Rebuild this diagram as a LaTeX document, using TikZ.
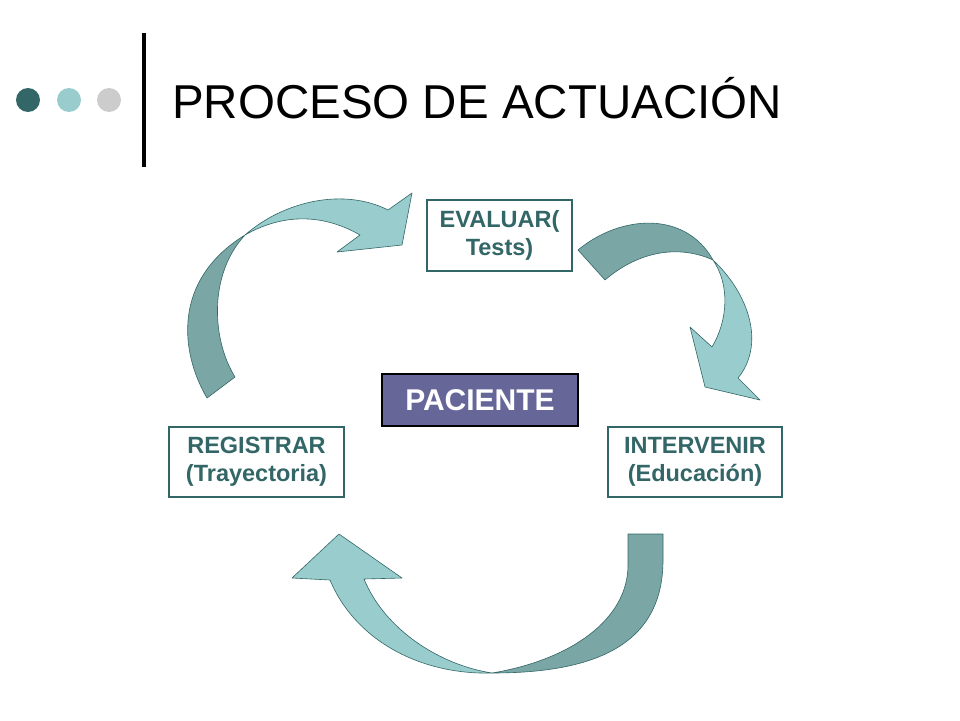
\documentclass[tikz,border=0pt]{standalone}
\usepackage{fontspec}
\setmainfont{Liberation Sans}
\usepackage{xcolor}
\definecolor{tealdark}{RGB}{51,102,102}
\definecolor{tealmid}{RGB}{122,166,166}
\definecolor{teallight}{RGB}{153,204,204}
\definecolor{greydot}{RGB}{204,204,204}
\definecolor{paciente}{RGB}{102,102,153}

\begin{document}
\begin{tikzpicture}[x=1pt,y=-1pt,
  box/.style={draw=tealdark, line width=2pt, fill=white, text=tealdark, align=center, inner sep=0pt, font=\fontsize{23.5}{28}\selectfont\bfseries},
  back/.style={fill=tealmid, draw=tealdark, line width=0.6pt, line join=round},
  front/.style={fill=teallight, draw=tealdark, line width=0.6pt, line join=round}]
\fill[white] (0,0) rectangle (960,720);
\useasboundingbox (0,0) rectangle (960,720);

% title bar
\fill[tealdark] (28,100) circle (12);
\fill[teallight] (69,100) circle (12);
\fill[greydot] (109,100) circle (12);
\draw[line width=4pt] (144,33) -- (144,167);
\node[anchor=base west, inner sep=0pt, font=\fontsize{47.5}{50}\selectfont] (title) at (172,118) {PROCESO DE ACTUACIÓN};

% arrow from registrar to evaluar
\filldraw[back] (207,398) .. controls (180,352) and (172,280) .. (245,235)
  .. controls (208,275) and (212,340) .. (235,377) -- cycle;
\filldraw[front] (245,235) .. controls (285,200) and (345,188) .. (388,210)
  -- (412,193) -- (402,245) -- (337,252) -- (360,235)
  .. controls (320,212) and (280,215) .. (245,235) -- cycle;

% arrow from evaluar to intervenir
\filldraw[back] (578,250) .. controls (620,215) and (685,210) .. (713,260)
  .. controls (680,245) and (640,250) .. (605,280) -- cycle;
\filldraw[front] (713,260) .. controls (750,295) and (765,345) .. (738,378)
  -- (760,400) -- (705,387) -- (690,327) -- (712,347)
  .. controls (728,320) and (730,285) .. (713,260) -- cycle;

% arrow from intervenir to registrar
\filldraw[back] (628,534) -- (663,534) -- (663,560)
  .. controls (663,645) and (595,673) .. (492,673)
  .. controls (570,660) and (628,620) .. (628,565) -- cycle;
\filldraw[front] (492,673) .. controls (420,675) and (355,640) .. (330,580)
  -- (292,578) -- (339,534) -- (402,578) -- (364,579)
  .. controls (385,630) and (440,665) .. (492,673) -- cycle;

% boxes
\node[box, minimum width=145pt, minimum height=71pt] (evaluar) at (499.5,235.5) {EVALUAR(\\Tests)};
\node[box, minimum width=174pt, minimum height=70pt] (intervenir) at (695,462) {INTERVENIR\\(Educación)};
\node[box, minimum width=175pt, minimum height=70pt] (registrar) at (256.5,462) {REGISTRAR\\(Trayectoria)};
\node[draw=black, line width=2pt, fill=paciente, text=white, inner sep=0pt, font=\fontsize{30}{32}\selectfont\bfseries, minimum width=196pt, minimum height=52pt] (paciente) at (480,400) {PACIENTE};
\end{tikzpicture}
\end{document}
